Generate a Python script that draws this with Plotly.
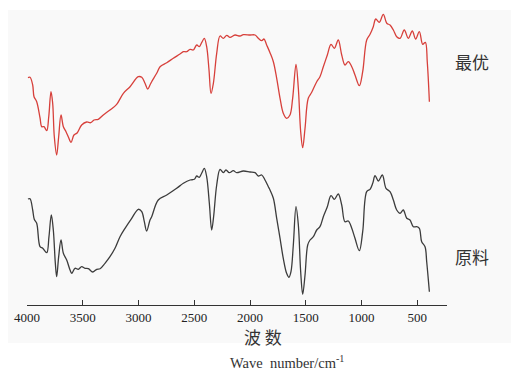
import plotly.graph_objects as go

# FTIR spectra: wavenumber (cm^-1) vs transmittance (arbitrary units)
wn_opt = [3991, 3973, 3949, 3937, 3913, 3883, 3868, 3848, 3823, 3805, 3785, 3770, 3755, 3734,
          3716, 3695, 3674, 3650, 3630, 3605, 3579, 3549, 3510, 3465, 3429, 3399, 3361, 3316,
          3256, 3196, 3136, 3076, 3002, 2971, 2942, 2918, 2897, 2882, 2837, 2807, 2747, 2688,
          2628, 2598, 2568, 2538, 2509, 2478, 2455, 2434, 2410, 2389, 2368, 2350, 2329, 2299,
          2269, 2240, 2209, 2180, 2135, 2090, 2060, 2000, 1955, 1926, 1895, 1875, 1851, 1821,
          1791, 1761, 1731, 1702, 1672, 1642, 1618, 1588, 1567, 1546, 1528, 1507, 1478, 1447,
          1402, 1373, 1343, 1307, 1274, 1244, 1209, 1178, 1149, 1119, 1088, 1059, 1020, 990,
          954, 924, 895, 873, 841, 805, 774, 745, 715, 685, 655, 617, 581, 545, 515, 482, 452,
          428, 411, 392]
t_opt = [227.3, 227.7, 220, 208.3, 203.3, 187, 178.3, 178.3, 174.3, 188.3, 213.3, 202, 168.3, 150,
         168.3, 190, 178.3, 173.3, 168.3, 162.7, 170, 172.3, 180, 183, 182.3, 185, 185.7, 190,
         195, 200.7, 211.7, 218.3, 228.3, 227.7, 221.7, 216, 220, 223.3, 231.7, 238.3, 242.3, 246.7,
         251, 253.3, 253.3, 255.7, 255, 260, 258.3, 262.3, 266.7, 258.3, 235, 211.7, 221.7, 251.7,
         269, 266.7, 269.7, 267.7, 270, 269, 270.3, 270, 270, 266.7, 264.3, 266, 260, 252.3,
         243.3, 226.7, 206.7, 191.7, 186.7, 190, 206.7, 240.7, 216.7, 173.3, 157.3, 176.7, 206.7, 212.7,
         223.3, 228.3, 238.3, 250, 260.7, 256.7, 265, 250, 240, 243.3, 238.3, 230, 219.3, 233.3,
         265, 270.7, 278.3, 286, 282.7, 290.7, 281.7, 280, 275, 268.3, 266.7, 275, 266.7, 274, 266, 273.3, 260.7,
         262.7, 243.3, 203.3]

wn_raw = [3991, 3973, 3949, 3935, 3913, 3883, 3859, 3823, 3803, 3782, 3764, 3746, 3734, 3716,
          3695, 3674, 3644, 3614, 3599, 3570, 3540, 3510, 3480, 3450, 3411, 3375, 3345, 3301,
          3256, 3211, 3166, 3121, 3061, 3002, 2971, 2948, 2927, 2897, 2882, 2823, 2747, 2658,
          2598, 2538, 2499, 2478, 2455, 2434, 2410, 2389, 2365, 2344, 2327, 2299, 2269, 2240,
          2216, 2186, 2150, 2120, 2060, 2000, 1955, 1926, 1895, 1866, 1836, 1821, 1791, 1761,
          1731, 1702, 1672, 1651, 1633, 1612, 1588, 1567, 1546, 1528, 1507, 1483, 1462, 1432,
          1402, 1373, 1343, 1307, 1274, 1244, 1209, 1178, 1149, 1119, 1088, 1059, 1020, 990,
          954, 924, 900, 879, 850, 814, 781, 745, 715, 685, 655, 626, 595, 566, 536, 506, 482,
          461, 431, 416, 392]
t_raw = [106, 106.3, 95, 85.7, 81.7, 58.3, 56.7, 52.3, 68.3, 90, 75, 41.7, 28.3, 48.3,
         65, 51.7, 45, 35, 31.7, 36.7, 35.7, 38.3, 36.7, 36.3, 33, 35.7, 36.3, 41.7,
         48.3, 56.7, 68.3, 76.7, 86.7, 95.7, 93.3, 83.3, 74, 85, 88.3, 105, 110, 116.7,
         121.7, 125, 125.7, 129, 127.7, 131.7, 136.7, 128.3, 101.7, 75, 88, 120, 135.7, 132.3,
         135, 132.3, 134.3, 132.3, 134, 133, 132.3, 129, 130, 125, 118.3, 115, 106.7, 86.7,
         66.7, 46.7, 31.7, 27.7, 33.3, 60, 98.3, 80, 33.3, 10.7, 30, 60, 65, 68.3,
         75, 78.3, 88.3, 98.3, 109.3, 105.7, 111, 100, 83.3, 84, 76.7, 66.7, 54.3, 73.3,
         113.3, 115.7, 121.7, 129.3, 124, 130, 116.7, 113.3, 105, 95, 91.7, 95, 86.7, 85, 78.3, 78.3, 76.7,
         63.3, 58.3, 43.3, 13.3]

series_names = ["最优", "原料"]
tick_vals = [4000, 3500, 3000, 2500, 2000, 1500, 1000, 500]

fig = go.Figure()
fig.add_trace(go.Scatter(x=wn_opt, y=t_opt, mode="lines", name=series_names[0],
                         line=dict(color="#d7403b", width=1.3, shape="spline", smoothing=1.0)))
fig.add_trace(go.Scatter(x=wn_raw, y=t_raw, mode="lines", name=series_names[1],
                         line=dict(color="#3c3c3c", width=1.3, shape="spline", smoothing=1.0)))

# series labels at right end of each curve
label_font = dict(family="Noto Sans CJK SC", size=17, color="#333")
fig.add_annotation(x=1.0595, y=t_opt[-1] + 40, xref="paper", yref="y", text=series_names[0],
                   showarrow=False, xanchor="center", yanchor="middle", font=label_font)
fig.add_annotation(x=1.0595, y=t_raw[-1] + 35, xref="paper", yref="y", text=series_names[1],
                   showarrow=False, xanchor="center", yanchor="middle", font=label_font)

# axis titles
fig.add_annotation(x=0.561, y=-0.108, xref="paper", yref="paper", text="波 数",
                   showarrow=False, xanchor="center", yanchor="middle", font=label_font)
fig.add_annotation(x=0.619, y=-0.193, xref="paper", yref="paper",
                   text="Wave  number/cm<sup>-1</sup>",
                   showarrow=False, xanchor="center", yanchor="middle",
                   font=dict(family="Liberation Serif", size=14.5, color="#333"))

# light panel behind the chart
fig.add_shape(type="rect", xref="paper", yref="paper",
              x0=-19 / 420, x1=484 / 420, y0=-38 / 295, y1=1.0,
              fillcolor="#f9f9f9", line=dict(width=0), layer="below")

fig.update_layout(
    width=511, height=371,
    margin=dict(l=27, r=64, t=10, b=66),
    paper_bgcolor="white", plot_bgcolor="rgba(0,0,0,0)",
    showlegend=False,
    xaxis=dict(range=[4000, 234], tickvals=tick_vals, ticks="inside", ticklen=5,
               tickwidth=1.2, tickcolor="#333", showline=True, linecolor="#333", linewidth=1.3,
               showgrid=False, zeroline=False,
               tickfont=dict(family="Liberation Serif", size=13, color="#222")),
    yaxis=dict(range=[0, 295], visible=False, showgrid=False, zeroline=False),
)

fig.write_html("out.html")
